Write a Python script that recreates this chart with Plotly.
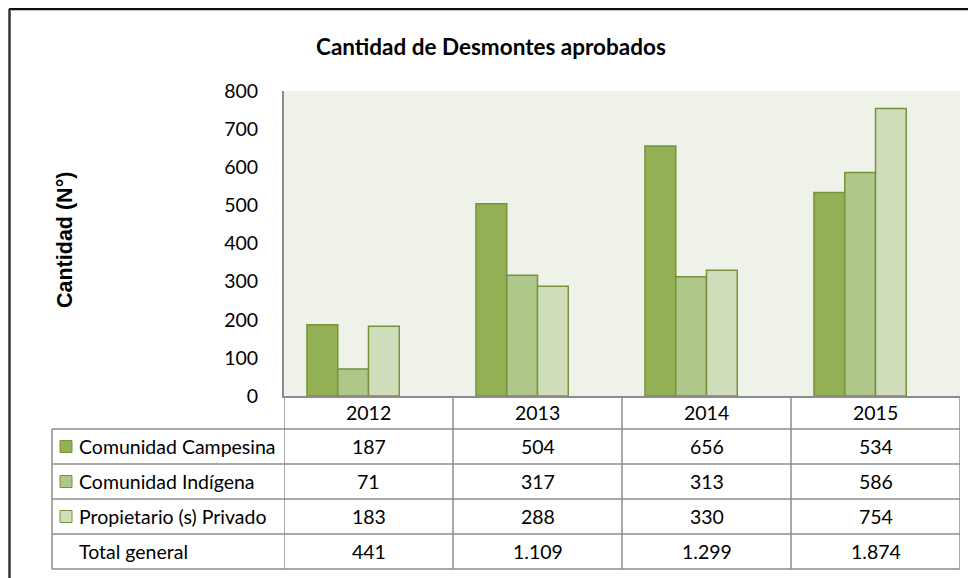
import plotly.graph_objects as go

# ---- data ----
years = ["2012", "2013", "2014", "2015"]
series_names = ["Comunidad Campesina", "Comunidad Indígena", "Propietario (s) Privado"]
campesina = [187, 504, 656, 534]
indigena = [71, 317, 313, 586]
privado = [183, 288, 330, 754]
total_general = [441, 1109, 1299, 1874]
y_ticks = [0, 100, 200, 300, 400, 500, 600, 700, 800]

# ---- style ----
OFF = 8  # page body margin
W, H = 976 - OFF, 578 - OFF
PL, PR, PT, PB = 284, 960, 91, 396  # plot area in window pixels
fills = ["#93B054", "#AFC788", "#D0DDBA"]
edge = "#76923C"
grid_grey = "#8C8C8C"
FONT = "Lato"
FS = 19.5

def px_y(py):
    return (PB - py) / (PB - PT)

def px_x(px):
    return (px - PL) / (PR - PL)

fig = go.Figure()
for name, vals, col in zip(series_names, [campesina, indigena, privado], fills):
    fig.add_trace(go.Bar(x=years, y=vals, name=name,
                         marker=dict(color=col, line=dict(color=edge, width=1.5)), showlegend=False))
# fourth (hidden) series as in the original chart
fig.add_trace(go.Bar(x=years, y=total_general, name="Total general",
                     marker=dict(color="rgba(0,0,0,0)", line=dict(width=0)), showlegend=False, hoverinfo="skip"))

shapes = []
annotations = []

def ann(x, y, text, xref="paper", xanchor="center", size=FS, family=FONT, **kw):
    annotations.append(dict(x=x, y=y, xref=xref, yref="paper", text=text, showarrow=False,
                            xanchor=xanchor, yanchor="middle",
                            font=dict(family=family, size=size, color="#000"), **kw))

# table geometry (pixels)
row_edges = [396, 429, 464, 499, 534, 569]
table_left = 52
line = dict(color=grid_grey, width=1.5)
for ry in row_edges[1:]:
    shapes.append(dict(type="line", xref="paper", yref="paper", x0=px_x(table_left), x1=1,
                       y0=px_y(ry), y1=px_y(ry), line=line))
for i in range(len(years) + 1):
    shapes.append(dict(type="line", xref="x", yref="paper", x0=i - 0.5, x1=i - 0.5,
                       y0=0, y1=px_y(row_edges[-1]), line=line))
shapes.append(dict(type="line", xref="paper", yref="paper", x0=px_x(table_left), x1=px_x(table_left),
                   y0=px_y(row_edges[1]), y1=px_y(row_edges[-1]), line=line))

# header row (years) -- category index positions on the x axis
hc = px_y((row_edges[0] + row_edges[1]) / 2)
for i, yr in enumerate(years):
    ann(i, hc, yr, xref="x")

rows = [(series_names[0], campesina, fills[0]), (series_names[1], indigena, fills[1]),
        (series_names[2], privado, fills[2]), ("Total general", total_general, None)]
for r, (label, vals, col) in enumerate(rows):
    top, bot = row_edges[r + 1], row_edges[r + 2]
    cy = (top + bot) / 2
    if col is not None:
        shapes.append(dict(type="rect", xref="paper", yref="paper", x0=px_x(60), x1=px_x(72),
                           y0=px_y(cy + 6), y1=px_y(cy - 6), fillcolor=col, line=dict(color=edge, width=1)))
    ann(px_x(77), px_y(cy), label, xanchor="left")
    for i, v in enumerate(vals):
        ann(i, px_y(cy), f"{v:,}".replace(",", "."), xref="x")

# title
ann(px_x(491), px_y(46), "<b>Cantidad de Desmontes aprobados</b>", size=22.5)
# y axis title
ann(px_x(65), px_y(240), "<b>Cantidad (N°)</b>", size=21.5, family="Liberation Sans", textangle=-90)

# outer frame (top and left visible)
shapes.append(dict(type="line", xref="paper", yref="paper", x0=px_x(9), x1=px_x(990), y0=px_y(9.2), y1=px_y(9.2),
                   line=dict(color="#111", width=2.2)))
shapes.append(dict(type="line", xref="paper", yref="paper", x0=px_x(9.5), x1=px_x(9.5), y0=px_y(9), y1=px_y(600),
                   line=dict(color="#333", width=2.5)))

fig.update_layout(
    width=W, height=H,
    margin=dict(l=PL - OFF, r=W - (PR - OFF), t=PT - OFF, b=H - (PB - OFF), pad=0),
    paper_bgcolor="white", plot_bgcolor="#EFF2E9",
    barmode="group", bargap=0.272, bargroupgap=0,
    shapes=shapes, annotations=annotations,
    showlegend=False,
)
fig.update_xaxes(type="category", range=[-0.5, len(years) - 0.5], autorange=False,
                 showticklabels=False, showline=True, linecolor=grid_grey, linewidth=2,
                 showgrid=False, zeroline=False, ticks="")
fig.update_yaxes(range=[0, 800], tickvals=y_ticks, showgrid=False, zeroline=False,
                 showline=True, linecolor=grid_grey, linewidth=2, ticks="",
                 ticklabelstandoff=20, tickfont=dict(family=FONT, size=FS, color="#000"))

fig.write_html("out.html")
